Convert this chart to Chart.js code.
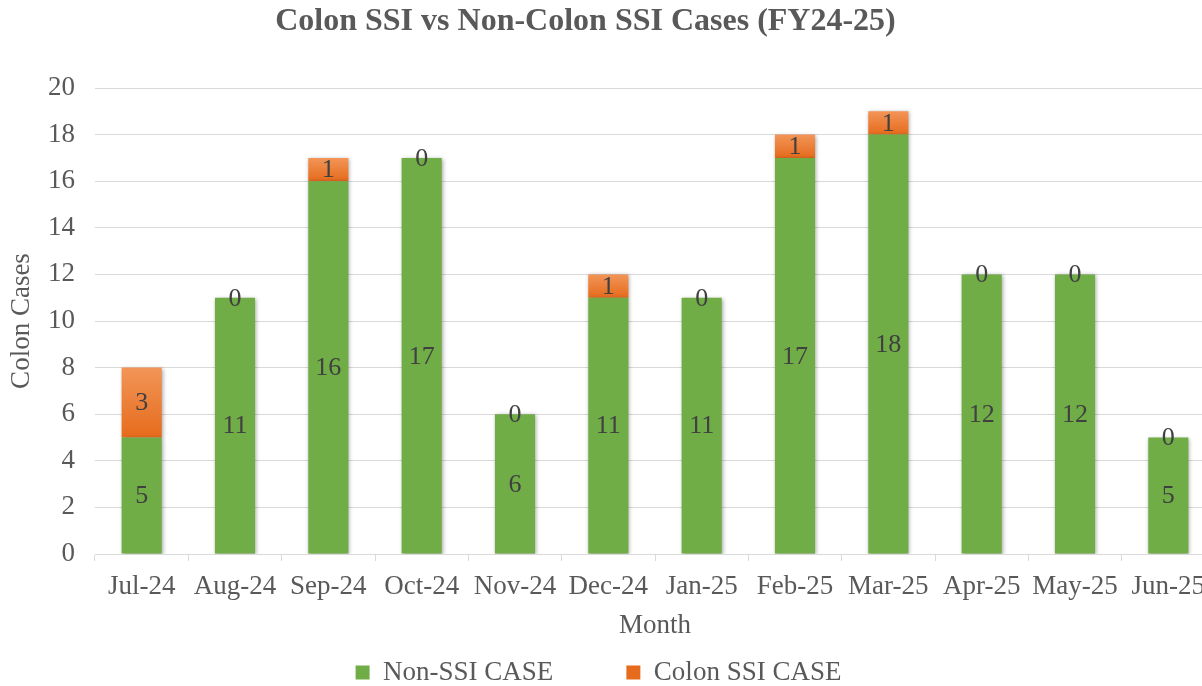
<!DOCTYPE html>
<html>
<head>
<meta charset="utf-8">
<script src="https://cdn.jsdelivr.net/npm/chart.js@4.4.1/dist/chart.umd.min.js"></script>
<style>
  html, body { margin: 0; padding: 0; background: #fff; overflow: hidden; }
  #wrap { width: 1222px; height: 686px; }
</style>
</head>
<body>
<div id="wrap"><canvas id="ssiChart" width="1222" height="686"></canvas></div>
<script>
const months = ['Jul-24', 'Aug-24', 'Sep-24', 'Oct-24', 'Nov-24', 'Dec-24', 'Jan-25', 'Feb-25', 'Mar-25', 'Apr-25', 'May-25', 'Jun-25'];
const nonSsiCases = [5, 11, 16, 17, 6, 11, 11, 17, 18, 12, 12, 5];
const colonSsiCases = [3, 0, 1, 0, 0, 1, 0, 1, 1, 0, 0, 0];
const yTicks = [0, 2, 4, 6, 8, 10, 12, 14, 16, 18, 20];

const FONT = "'Liberation Serif', 'Times New Roman', serif";
const TEXT = '#595959';

// orange segments get a light-to-dark vertical gradient like the Excel original
function orangeFill(ctx) {
    const chart = ctx.chart;
    if (ctx.type !== 'data' || !chart.chartArea) return '#ED7D31';
    const y = chart.scales.y;
    const i = ctx.dataIndex;
    const top = y.getPixelForValue(nonSsiCases[i] + colonSsiCases[i]);
    const bottom = y.getPixelForValue(nonSsiCases[i]);
    if (bottom - top < 1) return '#ED7D31';
    const g = chart.ctx.createLinearGradient(0, top, 0, bottom);
    g.addColorStop(0, '#F29558');
    g.addColorStop(1, '#E66B1C');
    return g;
}

// value labels in the middle of each segment
const barLabels = {
    id: 'barLabels',
    afterDatasetsDraw(chart) {
        const ctx = chart.ctx;
        ctx.save();
        ctx.font = '26px ' + FONT;
        ctx.fillStyle = '#404040';
        ctx.textAlign = 'center';
        ctx.textBaseline = 'middle';
        chart.data.datasets.forEach((ds, di) => {
            chart.getDatasetMeta(di).data.forEach((bar, i) => {
                const mid = (bar.y + bar.base) / 2;
                ctx.fillText(String(ds.data[i]), bar.x, mid + 1);
            });
        });
        ctx.restore();
    }
};

// soft shadow behind the bars
const barShadow = {
    id: 'barShadow',
    beforeDatasetsDraw(chart) {
        const ctx = chart.ctx;
        ctx.save();
        ctx.shadowColor = 'rgba(0,0,0,0.35)';
        ctx.shadowBlur = 4;
        ctx.shadowOffsetX = 1;
        ctx.shadowOffsetY = 1;
    },
    afterDatasetsDraw(chart) {
        chart.ctx.restore();
    }
};

// title and legend sit a bit left of the (cropped) canvas centre; legend pulled up
const shiftBoxes = {
    id: 'shiftBoxes',
    afterLayout(chart) {
        if (chart.titleBlock) { chart.titleBlock.left -= 22; chart.titleBlock.right -= 22; }
        if (chart.legend) {
            const lg = chart.legend;
            lg.left -= 9; lg.right -= 9;
            const h = lg.bottom - lg.top;
            lg.top = 586; lg.bottom = 586 + h;
        }
    }
};

new Chart(document.getElementById('ssiChart'), {
    type: 'bar',
    data: {
        labels: months,
        datasets: [
            {
                label: 'Non-SSI CASE',
                data: nonSsiCases,
                backgroundColor: '#70AD47',
                barPercentage: 0.43,
                categoryPercentage: 1
            },
            {
                label: 'Colon SSI CASE',
                data: colonSsiCases,
                backgroundColor: orangeFill,
                barPercentage: 0.43,
                categoryPercentage: 1
            }
        ]
    },
    options: {
        responsive: false,
        animation: false,
        layout: { padding: { left: 0, right: 7, top: 0, bottom: -66 } },
        plugins: {
            title: {
                display: true,
                text: 'Colon SSI vs Non-Colon SSI Cases (FY24-25)',
                color: TEXT,
                font: { family: FONT, size: 32, weight: 'bold' },
                padding: { top: 3, bottom: 46.6 }
            },
            legend: {
                position: 'bottom',
                labels: {
                    color: TEXT,
                    font: { family: FONT, size: 27 },
                    boxWidth: 14,
                    boxHeight: 14,
                    padding: 73
                }
            },
            tooltip: { enabled: false }
        },
        scales: {
            x: {
                stacked: true,
                afterFit(scale) { scale.height = 88; },
                grid: { drawOnChartArea: false, offset: true, tickLength: 7, color: '#d9d9d9' },
                border: { color: '#d9d9d9' },
                ticks: { color: TEXT, font: { family: FONT, size: 27 }, maxRotation: 0, autoSkip: false, padding: 10 },
                title: { display: true, text: 'Month', color: TEXT, font: { family: FONT, size: 27 }, padding: { top: 4, bottom: 0 } }
            },
            y: {
                stacked: true,
                min: 0,
                max: 20,
                afterBuildTicks(scale) { scale.ticks = yTicks.map(v => ({ value: v })); },
                afterFit(scale) { scale.width = 95; },
                grid: { color: '#d9d9d9', drawTicks: false },
                border: { display: false },
                ticks: { color: TEXT, font: { family: FONT, size: 27 }, padding: 20 },
                title: { display: true, text: 'Colon Cases', color: TEXT, font: { family: FONT, size: 27 }, padding: { top: 6, bottom: 0 } }
            }
        }
    },
    plugins: [barShadow, barLabels, shiftBoxes]
});
</script>
</body>
</html>
